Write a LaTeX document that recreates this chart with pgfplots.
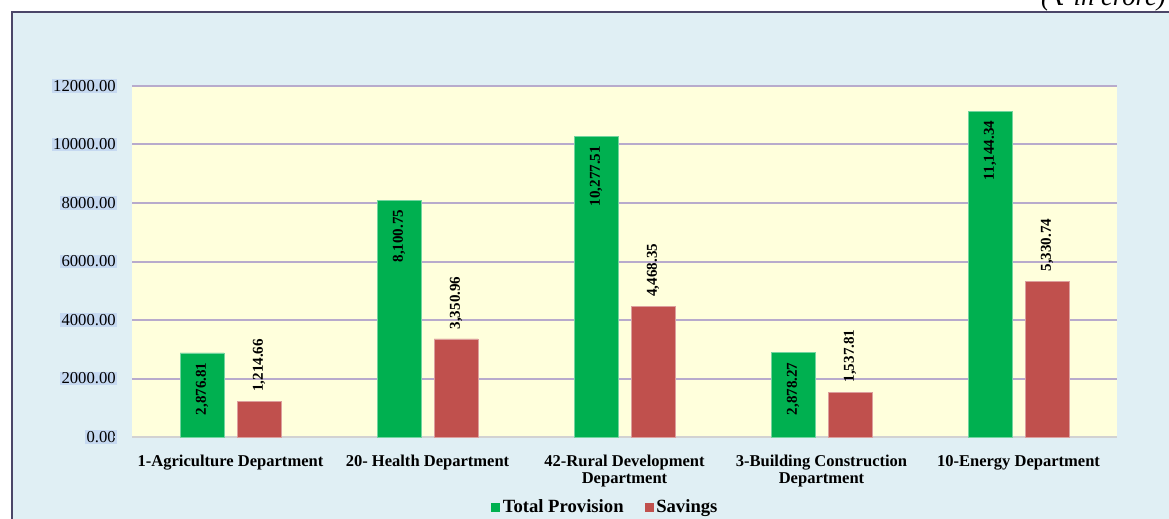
\documentclass[border=0pt]{standalone}
\usepackage{fontspec}
\setmainfont{Liberation Serif}
\newfontfamily\dejavu{DejaVu Serif}
\usepackage{pgfplots}
\usepackage{pgfplotstable}
\pgfplotsset{compat=1.18}
\definecolor{gbar}{HTML}{00B050}
\definecolor{rbar}{HTML}{C0504D}
\definecolor{plotbg}{HTML}{FFFFDC}
\definecolor{outerbg}{HTML}{E0EFF4}
\definecolor{gridc}{HTML}{B8ABCC}
\definecolor{framec}{HTML}{4B4668}
\definecolor{tickbg}{HTML}{C6D9F1}

\pgfplotstableread{
x y lab
0 2876.81 2,876.81
1 8100.75 8,100.75
2 10277.51 10,277.51
3 2878.27 2,878.27
4 11144.34 11,144.34
}\provision
\pgfplotstableread{
x y lab
0 1214.66 1,214.66
1 3350.96 3,350.96
2 4468.35 4,468.35
3 1537.81 1,537.81
4 5330.74 5,330.74
}\savings

\begin{document}
\begin{tikzpicture}[x=0.75pt,y=0.75pt]
\useasboundingbox (0,0) rectangle (1169,518);
\fill[outerbg] (12,-10) rectangle (1180,506);
\draw[framec, line width=1.5pt] (12,-10) -- (12,506) -- (1180,506);
\node[anchor=base east, inner sep=0pt, font=\itshape\fontsize{20}{24}\selectfont] at (1166,512) {({\dejavu ₹} in crore)};
\begin{axis}[
  at={(99pt,60.75pt)}, anchor=south west,
  scale only axis, width=738.75pt, height=263.25pt,
  xmin=-0.5, xmax=4.5, ymin=0, ymax=12000,
  ybar, bar width=33pt,
  axis background/.style={fill=plotbg},
  axis line style={draw=none},
  major tick length=0pt,
  ytick={0,2000,...,12000},
  scaled y ticks=false,
  ymajorgrids, grid style={gridc, line width=1.5pt},
  extra y ticks={0}, extra y tick labels={},
  extra y tick style={grid style={gray!35, line width=1.8pt}},
  yticklabel style={fill=tickbg, inner sep=1pt, anchor=east, xshift=-11pt,
    font=\fontsize{12.5}{14}\selectfont,
    /pgf/number format/fixed, /pgf/number format/fixed zerofill,
    /pgf/number format/precision=2, /pgf/number format/1000 sep={},
    /pgf/number format/assume math mode=true},
  xtick={0,1,2,3,4},
  xticklabels={{1-Agriculture Department},{20- Health Department},{42-Rural Development\\Department},{3-Building Construction\\Department},{10-Energy Department}},
  xticklabel style={font=\bfseries\fontsize{12.4}{13}\selectfont, align=center, yshift=-10pt},
  legend style={at={(0.481,-0.2)}, anchor=center, draw=none, fill=none,
    legend columns=2, font=\bfseries\fontsize{14}{16}\selectfont,
    /tikz/every even column/.append style={column sep=14pt}},
  legend image code/.code={\fill[#1,draw=none] (0pt,-3.3pt) rectangle (6.5pt,3.3pt);},
  nodes near coords, point meta=explicit symbolic,
]
\addplot[fill=gbar, draw=gbar!55!white, line width=0.5pt, bar shift=-21.375pt,
  every node near coord/.append style={rotate=90, anchor=east, inner xsep=7pt, black,
    font=\bfseries\fontsize{11.3}{12}\selectfont}]
  table[x=x, y=y, meta=lab] {\provision};
\addplot[fill=rbar, draw=rbar!55!white, line width=0.5pt, bar shift=21.375pt,
  every node near coord/.append style={rotate=90, anchor=west, inner xsep=7pt, black,
    font=\bfseries\fontsize{11.3}{12}\selectfont}]
  table[x=x, y=y, meta=lab] {\savings};
\legend{Total Provision, Savings}
\end{axis}
\end{tikzpicture}
\end{document}
